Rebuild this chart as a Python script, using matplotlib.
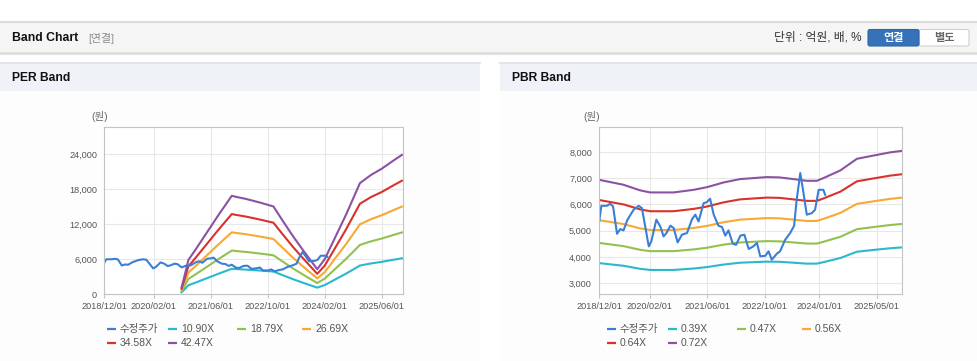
import numpy as np
import pandas as pd
import matplotlib
matplotlib.use('Agg')
import matplotlib.pyplot as plt
from matplotlib.patches import Rectangle, FancyBboxPatch
from matplotlib.ticker import FuncFormatter

plt.rcParams['font.family'] = ['Liberation Sans', 'Noto Sans CJK KR', 'DejaVu Sans']

W, H = 978, 361
start = pd.Timestamp('2018-12-01')
end = pd.Timestamp('2025-12-01')

# 수정주가 (months after 2018/12/01, price)
price_months = [0, 0.65, 2.2, 3.1, 3.9, 5.0, 5.9, 6.8, 7.9, 9.6, 11.0, 11.9, 13.8, 14.5,
                15.9, 17.0, 17.9, 18.7, 19.8, 20.7, 21.8, 23.0, 24.4, 25.8, 26.7, 27.6,
                29.0, 29.9, 30.8, 31.8, 33.1, 34.1, 35.0, 35.9, 37.1, 38.0, 39.2, 40.3,
                41.5, 42.8, 43.8, 44.7, 46.1, 47.0, 47.9, 49.3, 50.2, 51.6, 53.0, 54.1,
                54.8, 55.8, 56.7, 57.6, 59.0, 59.9, 60.9, 62.2, 62.7]
price = [5290, 5950, 5950, 6030, 5925, 4880, 5060, 5010, 5420, 5800, 5950, 5860, 4400, 4590,
         5420, 5160, 4780, 4910, 5190, 5100, 4550, 4845, 4910, 5440, 5610, 5350,
         6050, 6090, 6220, 5610, 5190, 5140, 4810, 5010, 4500, 4460, 4810, 4845,
         4300, 4400, 4530, 4020, 4040, 4210, 3890, 4120, 4210, 4650, 4910, 5190,
         6180, 7200, 6430, 5610, 5670, 5800, 6560, 6560, 6370]

# EPS behind the PER band
eps_months = [21.8, 22.4, 23.7, 26, 29, 32, 35.9, 37, 40, 44, 47.6, 50, 53, 56, 59.9,
              62, 65, 68, 71.9, 75, 78, 81, 83.7]
eps = [27, 60, 137, 185, 250, 315, 396, 392, 383, 368, 353, 300, 235, 175, 100,
       140, 230, 320, 447, 480, 505, 535, 561]
per_multiples = [10.90, 18.79, 26.69, 34.58, 42.47]

# BPS behind the PBR band
bps_months = [0, 6.8, 11.4, 14.2, 20.7, 26.2, 29.9, 34.5, 39.1, 46.5, 50, 53.9, 57.6,
              60.4, 62.2, 66.9, 71.5, 76.1, 80.7, 84]
bps = [9644, 9379, 9083, 8972, 8972, 9111, 9250, 9500, 9680, 9786, 9770, 9680, 9590,
       9590, 9732, 10139, 10757, 10930, 11097, 11180]
pbr_multiples = [0.39, 0.47, 0.56, 0.64, 0.72]

per_xticks = ['2018-12-01', '2020-02-01', '2021-06-01', '2022-10-01', '2024-02-01', '2025-06-01']
pbr_xticks = ['2018-12-01', '2020-02-01', '2021-06-01', '2022-10-01', '2024-01-01', '2025-05-01']
per_yticks = [0, 6000, 12000, 18000, 24000]
pbr_yticks = [3000, 4000, 5000, 6000, 7000, 8000]

price_color = '#3a7fd5'
band_colors = ['#2bb8cc', '#92c150', '#f9a834', '#d8322b', '#8c52a2']


def to_dates(months):
    return start + pd.to_timedelta(np.array(months) * 30.44, unit='D')


def px_axes(fig, l, t, r, b):
    return fig.add_axes([l / W, 1 - b / H, (r - l) / W, (b - t) / H])


def draw_band(ax, base_months, base, multiples, xticks, yticks, ylim):
    bd = to_dates(base_months)
    for m, c in zip(multiples, band_colors):
        ax.plot(bd, np.array(base) * m, color=c, lw=1.5)
    ax.plot(to_dates(price_months), price, color=price_color, lw=1.5)

    ax.set_xlim(start, end)
    ax.set_ylim(*ylim)
    tk = pd.to_datetime(xticks)
    ax.set_xticks(tk)
    ax.set_xticklabels([t.strftime('%Y/%m/%d') for t in tk])
    ax.set_yticks(yticks)
    ax.yaxis.set_major_formatter(FuncFormatter(lambda v, p: f'{int(v):,}'))
    ax.grid(True, color='#e8e8e8', lw=0.8)
    ax.set_axisbelow(True)
    for s in ax.spines.values():
        s.set_color('#c4c4c4')
        s.set_linewidth(0.8)
    ax.tick_params(axis='x', length=3, color='#c4c4c4', labelsize=6.6,
                   labelcolor='#555555', pad=3)
    ax.tick_params(axis='y', length=0, labelsize=6.6, labelcolor='#555555', pad=5)


def draw_legend(bg, x0, labels):
    col_off = [0, 61, 130, 195]
    row_y = [329, 342.5]
    colors = [price_color] + band_colors
    for i, (lab, c) in enumerate(zip(labels, colors)):
        x = x0 + col_off[i % 4]
        y = row_y[i // 4]
        bg.plot([x, x + 9], [y, y], color=c, lw=1.6, solid_capstyle='butt')
        bg.text(x + 13, y, lab, fontsize=7.5, color='#555555', va='center', ha='left')


fig = plt.figure(figsize=(W / 100, H / 100), dpi=100)
bg = fig.add_axes([0, 0, 1, 1])
bg.set_xlim(0, W)
bg.set_ylim(H, 0)
bg.axis('off')

# top header bar
bg.add_patch(Rectangle((0, 22), W, 30, facecolor='#f5f5f5', edgecolor='none'))
bg.plot([0, W], [22, 22], color='#dcdcdc', lw=1.5)
bg.plot([0, W], [52.5, 52.5], color='#dedede', lw=2)
bg.text(12, 38, 'Band Chart', fontsize=8.8, fontweight='bold', color='#111111', va='center')
bg.text(88, 38, '[연결]', fontsize=7.8, color='#8a8a8a', va='center')
bg.text(861, 38, '단위 : 억원, 배, %', fontsize=8.5, color='#333333', va='center', ha='right')
bg.add_patch(FancyBboxPatch((919, 29.5), 50, 16.5, boxstyle='round,pad=0,rounding_size=2',
                            facecolor='white', edgecolor='#cfcfcf', lw=0.8))
bg.add_patch(FancyBboxPatch((868, 29.5), 51, 16.5, boxstyle='round,pad=0,rounding_size=2',
                            facecolor='#3572b7', edgecolor='#2f66a6', lw=0.8))
bg.text(893.5, 38, '연결', fontsize=8, fontweight='bold', color='white', ha='center', va='center')
bg.text(944, 38, '별도', fontsize=8, fontweight='bold', color='#666666', ha='center', va='center')

# panel headers
for x0, x1, title in [(0, 480, 'PER Band'), (500, W, 'PBR Band')]:
    bg.add_patch(Rectangle((x0, 62), x1 - x0, 29, facecolor='#eff2f7', edgecolor='none'))
    bg.plot([x0, x1], [62.5, 62.5], color='#e2e6ec', lw=1.5)
    bg.add_patch(Rectangle((x0, 91), x1 - x0, H - 91, facecolor='#fdfdfd', edgecolor='none'))
    bg.text(x0 + 12, 78, title, fontsize=8.7, fontweight='bold', color='#111111', va='center')

bg.text(100, 117, '(원)', fontsize=7.5, color='#666666', ha='center', va='center')
bg.text(592, 117, '(원)', fontsize=7.5, color='#666666', ha='center', va='center')

ax1 = px_axes(fig, 104, 127, 403, 294)
draw_band(ax1, eps_months, eps, per_multiples, per_xticks, per_yticks, (0, 28600))

ax2 = px_axes(fig, 599, 127, 902, 294)
draw_band(ax2, bps_months, bps, pbr_multiples, pbr_xticks, pbr_yticks, (2580, 8960))

draw_legend(bg, 107, ['수정주가'] + [f'{m:.2f}X' for m in per_multiples])
draw_legend(bg, 607, ['수정주가'] + [f'{m:.2f}X' for m in pbr_multiples])

fig.savefig('out.png', dpi=100)
